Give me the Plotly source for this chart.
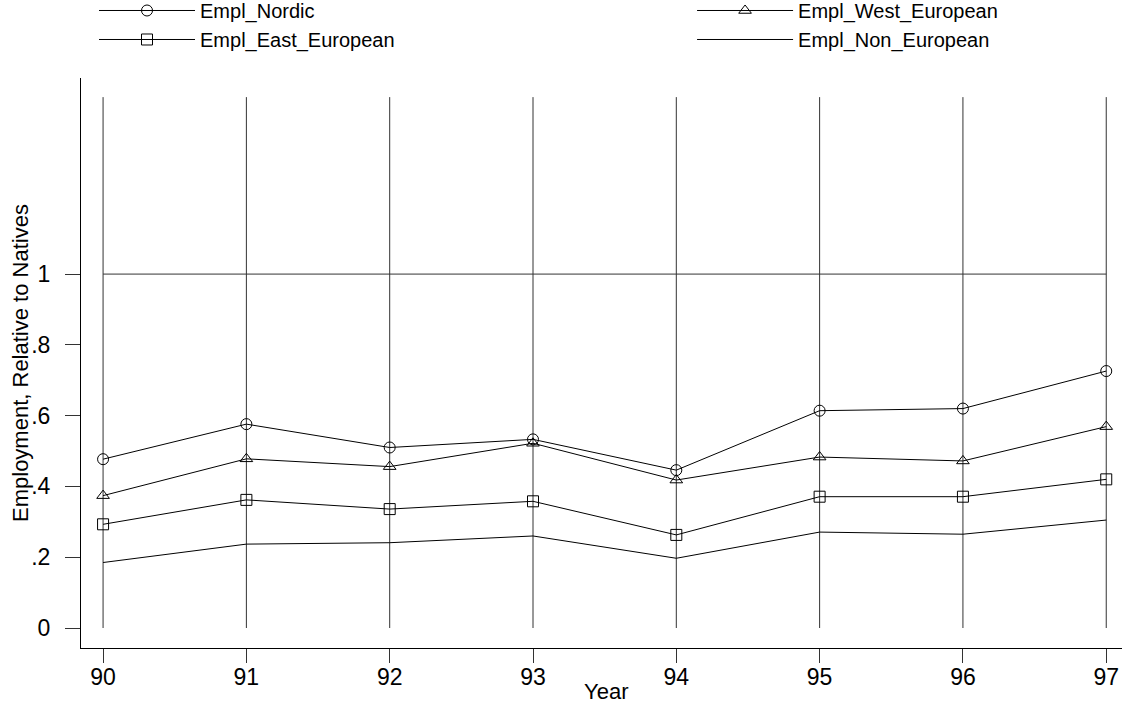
import plotly.graph_objects as go

years = [90, 91, 92, 93, 94, 95, 96, 97]
year_labels = ["90", "91", "92", "93", "94", "95", "96", "97"]

empl_nordic = [0.477, 0.576, 0.510, 0.533, 0.446, 0.614, 0.620, 0.726]
empl_west_european = [0.374, 0.478, 0.456, 0.522, 0.418, 0.483, 0.472, 0.569]
empl_east_european = [0.293, 0.362, 0.336, 0.358, 0.263, 0.371, 0.371, 0.420]
empl_non_european = [0.185, 0.237, 0.241, 0.260, 0.197, 0.271, 0.265, 0.305]

y_ticks = [0, 0.2, 0.4, 0.6, 0.8, 1]
y_tick_labels = ["0", ".2", ".4", ".6", ".8", "1"]
grid_top = 1.5
ref_line = 1

FONT = "Liberation Sans, Arial, sans-serif"

fig = go.Figure()

series = [
    ("Empl_Nordic", empl_nordic, "circle-open", "legend"),
    ("Empl_West_European", empl_west_european, "triangle-up-open", "legend2"),
    ("Empl_East_European", empl_east_european, "square-open", "legend"),
    ("Empl_Non_European", empl_non_european, None, "legend2"),
]
for name, vals, sym, lg in series:
    if sym:
        fig.add_trace(go.Scatter(
            x=years, y=vals, name=name, mode="lines+markers", legend=lg,
            line=dict(color="black", width=1),
            marker=dict(symbol=sym, size=11, color="black", line=dict(width=1, color="black")),
        ))
    else:
        fig.add_trace(go.Scatter(
            x=years, y=vals, name=name, mode="lines", legend=lg,
            line=dict(color="black", width=1),
        ))

# vertical grid lines at each year, spanning 0..grid_top
for yr in years:
    fig.add_shape(type="line", xref="x", yref="y", x0=yr, x1=yr, y0=0, y1=grid_top,
                  line=dict(color="#333333", width=1), layer="below")
# horizontal reference line at 1
fig.add_shape(type="line", xref="x", yref="y", x0=years[0], x1=years[-1], y0=ref_line, y1=ref_line,
              line=dict(color="#333333", width=1), layer="below")

fig.add_annotation(text="Year", xref="paper", yref="paper", x=0.504, y=-0.077,
                   xanchor="center", yanchor="middle", showarrow=False,
                   font=dict(family=FONT, size=22, color="black"))
fig.add_annotation(text="Employment, Relative to Natives", xref="paper", yref="paper",
                   x=-0.0586, y=0.5, xanchor="center", yanchor="middle", textangle=-90,
                   showarrow=False, font=dict(family=FONT, size=22, color="black"))

legend_common = dict(
    orientation="v", yanchor="middle", xanchor="left", y=1.093,
    font=dict(family=FONT, size=20, color="black"),
    itemwidth=96, bgcolor="rgba(0,0,0,0)", traceorder="normal",
)

fig.update_layout(
    width=1122, height=713,
    margin=dict(l=81, r=0, t=78, b=65, autoexpand=False),
    paper_bgcolor="white", plot_bgcolor="white",
    font=dict(family=FONT, size=22, color="black"),
    showlegend=True,
    legend=dict(x=0.0125, **legend_common),
    legend2=dict(x=0.587, **legend_common),
    xaxis=dict(
        range=[89.846, 97.11], tickvals=years, ticktext=year_labels,
        ticks="outside", ticklen=14, tickcolor="#333333", tickwidth=1,
        showline=True, linecolor="black", linewidth=1,
        showgrid=False, zeroline=False, ticklabelstandoff=-6,
        tickfont=dict(family=FONT, size=23, color="black"),
    ),
    yaxis=dict(
        range=[-0.0565, 1.554], tickvals=y_ticks, ticktext=y_tick_labels,
        ticks="outside", ticklen=15, tickcolor="#333333", tickwidth=1,
        showline=True, linecolor="black", linewidth=1,
        showgrid=False, zeroline=False, ticklabelstandoff=10,
        tickfont=dict(family=FONT, size=23, color="black"),
    ),
)

fig.write_html("out.html", config={"displayModeBar": False},
               post_script="document.body.style.margin='0px';")
